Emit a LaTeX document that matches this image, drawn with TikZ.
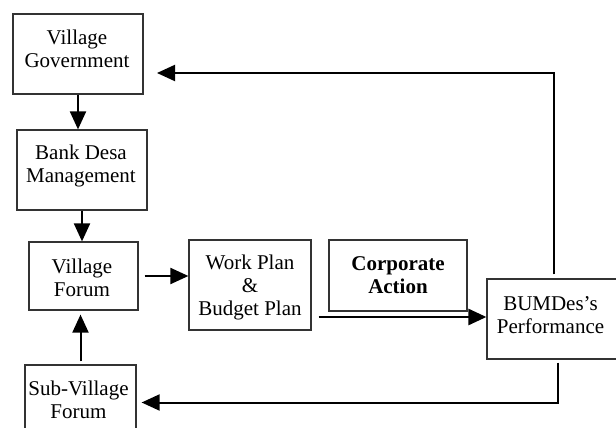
\documentclass[tikz,border=0pt]{standalone}
\usepackage{fontspec}
\setmainfont{Liberation Serif}
\usetikzlibrary{arrows.meta,calc}
\begin{document}
\begin{tikzpicture}[x=1pt,y=1pt,
  boxnode/.style={draw=black!80, line width=1.2pt, inner sep=0pt},
  txt/.style={align=center, inner sep=0pt, font=\fontsize{21}{23}\selectfont},
  arr/.style={line width=2pt, -{Triangle[length=18pt,width=16pt]}}]
\useasboundingbox (0,0) rectangle (616,-428);
% boxes
\node[boxnode, minimum width=130pt, minimum height=80pt] (vg) at (78,-54) {};
\node[boxnode, minimum width=130pt, minimum height=80pt] (bd) at (82,-170) {};
\node[boxnode, minimum width=109pt, minimum height=68pt] (vf) at (83.5,-276) {};
\node[boxnode, minimum width=122pt, minimum height=90pt] (wp) at (250,-285) {};
\node[boxnode, minimum width=138pt, minimum height=71pt] (ca) at (398,-275.5) {};
\node[boxnode, minimum width=138pt, minimum height=80pt] (bum) at (556,-319) {};
\node[boxnode, minimum width=111pt, minimum height=75pt] (svf) at (80.5,-402.5) {};
% texts
\node[txt] (vgt) at (77,-49) {Village\\Government};
\node[txt] (bdt) at (81,-165.5) {Bank Desa\\Management};
\node[txt] (vft) at (82,-277.5) {Village\\Forum};
\node[txt] (wpt) at (250,-287) {Work Plan\\\&\\Budget Plan};
\node[txt, font=\fontsize{21}{23}\selectfont\bfseries] (cat) at (398,-275.5) {Corporate\\Action};
\node[txt] (bumt) at (550.5,-315.5) {BUMDes’s\\Performance};
\node[txt] (svft) at (78.5,-399.5) {Sub-Village\\Forum};
% connectors
\coordinate (vgin) at (157,-73);
\draw[arr] (vg.south) -- (vg.south |- bd.north);
\draw[arr] (bd.south) -- (bd.south |- vf.north);
\draw[arr] ($(vf.east)+(6,0)$) -- (vf.east -| wp.west);
\draw[arr] ($(svf.north)+(0,3)$) -- ($(svf.north |- vf.south)+(0,-4)$);
\draw[arr, line width=2.6pt] ($(wp.east |- bum.west)+(7,2)$) -- ($(bum.west)+(0,2)$);
\draw[arr] ($(bum.north)+(-2,4)$) |- (vgin);
\draw[arr] ($(bum.south)+(2,-3)$) |- ($(svf.east)+(5,0)$);
\end{tikzpicture}
\end{document}
